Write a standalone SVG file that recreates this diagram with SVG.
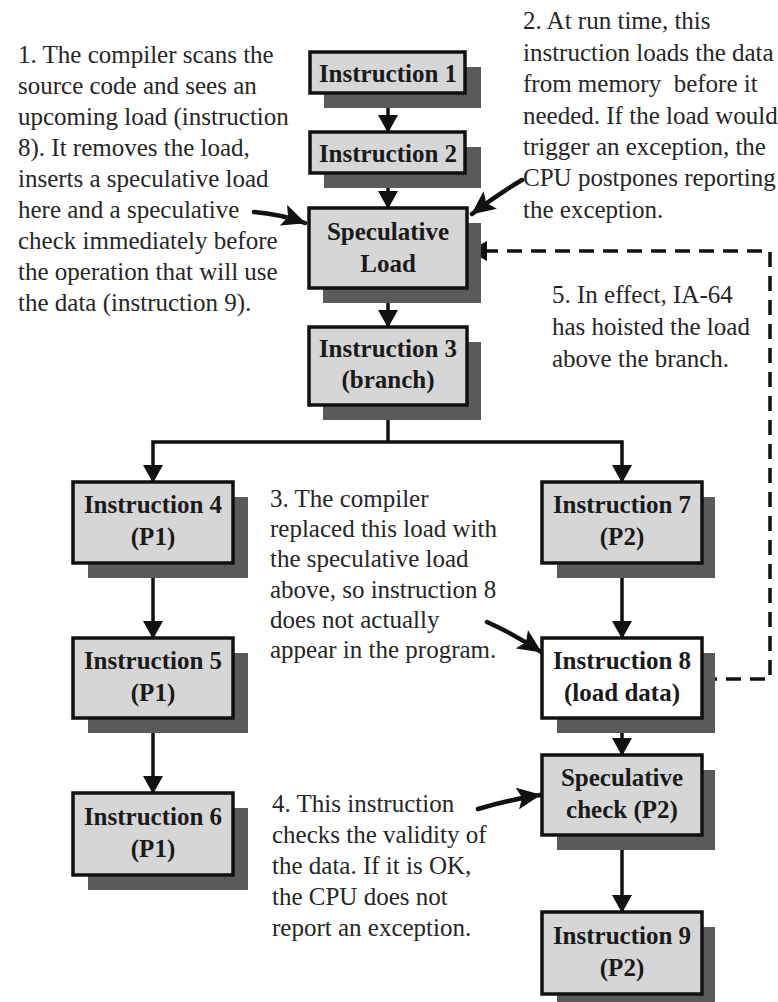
<svg xmlns="http://www.w3.org/2000/svg" width="778" height="1002" viewBox="0 0 778 1002">
<defs>
<style>
.sh{fill:#5a5a5a}
.bx{fill:#d6d6d6;stroke:#111;stroke-width:3.5}
.wb{fill:#ffffff;stroke:#111;stroke-width:3.5}
.lb{font-family:"Liberation Serif","Times New Roman",serif;font-weight:bold;font-size:25px;fill:#1a1a1a;text-anchor:middle}
.tx{font-family:"Liberation Serif","Times New Roman",serif;font-size:25px;fill:#262626}
.ln{fill:none;stroke:#111;stroke-width:3.5}
.an{fill:none;stroke:#111;stroke-width:4.5;stroke-linecap:round}
.ds{fill:none;stroke:#111;stroke-width:3.5;stroke-dasharray:15 9}
</style>
<marker id="ah" viewBox="0 0 18 20" refX="17" refY="10" markerWidth="18" markerHeight="20" markerUnits="userSpaceOnUse" orient="auto">
<path d="M0,0 L18,10 L0,20 z" fill="#111"/>
</marker>
<marker id="big" viewBox="0 0 24 22" refX="23" refY="11" markerWidth="24" markerHeight="22" markerUnits="userSpaceOnUse" orient="auto">
<path d="M0,0 L24,11 L0,22 L5,11 z" fill="#111"/>
</marker>
</defs>
<rect width="778" height="1002" fill="#ffffff"/>

<g id="connectors">
<line class="ln" x1="388" y1="93" x2="388" y2="132" marker-end="url(#ah)"/>
<line class="ln" x1="388" y1="173" x2="388" y2="208" marker-end="url(#ah)"/>
<line class="ln" x1="388" y1="288" x2="388" y2="327" marker-end="url(#ah)"/>
<polyline class="ln" points="388,405 388,442"/>
<polyline class="ln" points="388,442 153,442 153,482" marker-end="url(#ah)"/>
<polyline class="ln" points="388,442 622,442 622,482" marker-end="url(#ah)"/>
<line class="ln" x1="153" y1="563" x2="153" y2="638" marker-end="url(#ah)"/>
<line class="ln" x1="153" y1="718" x2="153" y2="793" marker-end="url(#ah)"/>
<line class="ln" x1="622" y1="563" x2="622" y2="638" marker-end="url(#ah)"/>
<line class="ln" x1="622" y1="718" x2="622" y2="755" marker-end="url(#ah)"/>
<line class="ln" x1="622" y1="835" x2="622" y2="912" marker-end="url(#ah)"/>
<polyline class="ds" points="702,679 770,679 770,251 470,251" marker-end="url(#ah)"/>
<path class="an" d="M254,212 Q280,214 305,223" marker-end="url(#big)"/>
<path class="an" d="M522,180 Q498,194 472,214" marker-end="url(#big)"/>
<path class="an" d="M487,622 Q514,634 541,652" marker-end="url(#big)"/>
<path class="an" d="M478,809 Q508,800 540,795" marker-end="url(#big)"/>
</g>

<g id="n-inst1">
<rect class="sh" x="324" y="67" width="157" height="41"/>
<rect class="bx" x="310" y="52" width="155" height="41"/>
<text class="lb" x="388" y="82">Instruction 1</text>
</g>
<g id="n-inst2">
<rect class="sh" x="324" y="147" width="157" height="41"/>
<rect class="bx" x="310" y="132" width="155" height="41"/>
<text class="lb" x="388" y="162">Instruction 2</text>
</g>
<g id="n-specload">
<rect class="sh" x="323" y="223" width="158" height="80"/>
<rect class="bx" x="309" y="208" width="158" height="80"/>
<text class="lb" x="388" y="240">Speculative</text>
<text class="lb" x="388" y="272">Load</text>
</g>
<g id="n-inst3">
<rect class="sh" x="323" y="342" width="158" height="78"/>
<rect class="bx" x="309" y="327" width="158" height="78"/>
<text class="lb" x="388" y="357">Instruction 3</text>
<text class="lb" x="388" y="388">(branch)</text>
</g>
<g id="n-inst4">
<rect class="sh" x="88" y="497" width="160" height="81"/>
<rect class="bx" x="73" y="482" width="160" height="81"/>
<text class="lb" x="153" y="513">Instruction 4</text>
<text class="lb" x="153" y="545">(P1)</text>
</g>
<g id="n-inst5">
<rect class="sh" x="88" y="653" width="160" height="80"/>
<rect class="bx" x="73" y="638" width="160" height="80"/>
<text class="lb" x="153" y="669">Instruction 5</text>
<text class="lb" x="153" y="701">(P1)</text>
</g>
<g id="n-inst6">
<rect class="sh" x="88" y="808" width="160" height="82"/>
<rect class="bx" x="73" y="793" width="160" height="82"/>
<text class="lb" x="153" y="825">Instruction 6</text>
<text class="lb" x="153" y="857">(P1)</text>
</g>
<g id="n-inst7">
<rect class="sh" x="557" y="497" width="158" height="81"/>
<rect class="bx" x="542" y="482" width="160" height="81"/>
<text class="lb" x="622" y="513">Instruction 7</text>
<text class="lb" x="622" y="545">(P2)</text>
</g>
<g id="n-inst8">
<rect class="sh" x="557" y="653" width="158" height="80"/>
<rect class="wb" x="542" y="638" width="160" height="80"/>
<text class="lb" x="622" y="669">Instruction 8</text>
<text class="lb" x="622" y="701">(load data)</text>
</g>
<g id="n-speccheck">
<rect class="sh" x="557" y="770" width="158" height="80"/>
<rect class="bx" x="542" y="755" width="160" height="80"/>
<text class="lb" x="622" y="786">Speculative</text>
<text class="lb" x="622" y="818">check (P2)</text>
</g>
<g id="n-inst9">
<rect class="sh" x="557" y="927" width="158" height="80"/>
<rect class="bx" x="542" y="912" width="160" height="82"/>
<text class="lb" x="622" y="944">Instruction 9</text>
<text class="lb" x="622" y="976">(P2)</text>
</g>

<g id="note1" class="tx">
<text x="18" y="63">1. The compiler scans the</text>
<text x="18" y="94">source code and sees an</text>
<text x="18" y="125">upcoming load (instruction</text>
<text x="18" y="156">8). It removes the load,</text>
<text x="18" y="187">inserts a speculative load</text>
<text x="18" y="218">here and a speculative</text>
<text x="18" y="249">check immediately before</text>
<text x="18" y="280">the operation that will use</text>
<text x="18" y="311">the data (instruction 9).</text>
</g>
<g id="note2" class="tx">
<text x="523" y="29">2. At run time, this</text>
<text x="523" y="61">instruction loads the data</text>
<text x="523" y="92">from memory&#160; before it</text>
<text x="523" y="124">needed. If the load would</text>
<text x="523" y="155">trigger an exception, the</text>
<text x="523" y="186">CPU postpones reporting</text>
<text x="523" y="218">the exception.</text>
</g>
<g id="note3" class="tx">
<text x="270" y="507">3. The compiler</text>
<text x="270" y="537">replaced this load with</text>
<text x="270" y="567">the speculative load</text>
<text x="270" y="598">above, so instruction 8</text>
<text x="270" y="628">does not actually</text>
<text x="270" y="658">appear in the program.</text>
</g>
<g id="note4" class="tx">
<text x="272" y="812">4. This instruction</text>
<text x="272" y="843">checks the validity of</text>
<text x="272" y="874">the data. If it is OK,</text>
<text x="272" y="905">the CPU does not</text>
<text x="272" y="936">report an exception.</text>
</g>
<g id="note5" class="tx">
<text x="552" y="303">5. In effect, IA-64</text>
<text x="552" y="335">has hoisted the load</text>
<text x="552" y="367">above the branch.</text>
</g>
</svg>
